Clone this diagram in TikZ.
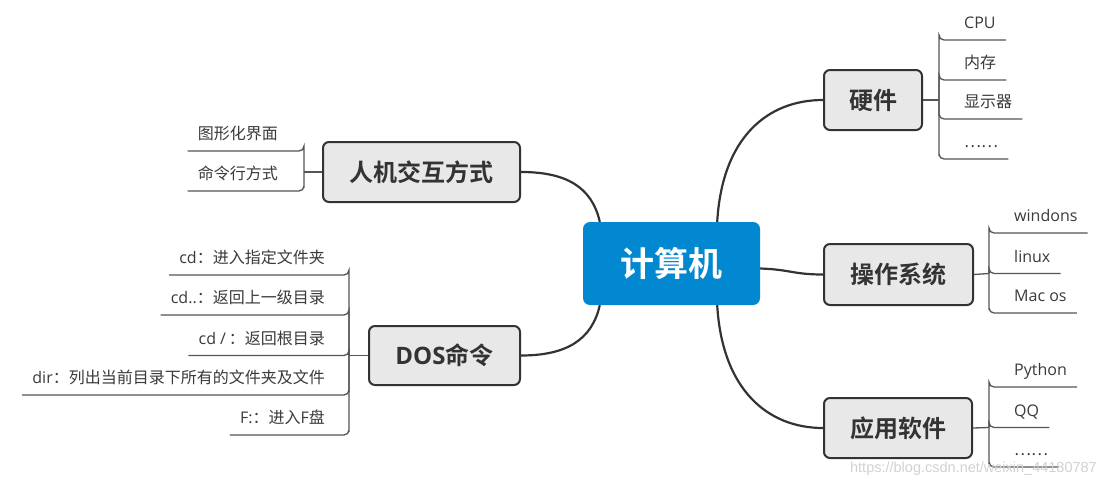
\documentclass[tikz,border=0pt]{standalone}
\usepackage{fontspec}
\setmainfont{Noto Sans CJK SC}[BoldFont={Noto Sans CJK SC Bold}]
\newfontfamily\lat{Open Sans}
\newfontfamily\wmfont{Liberation Sans}
\usetikzlibrary{backgrounds}
\definecolor{linec}{HTML}{333333}
\definecolor{boxfill}{HTML}{E8E8E8}
\definecolor{mainblue}{HTML}{0288D1}
\definecolor{txt}{HTML}{3A3A3A}
\definecolor{brc}{HTML}{555555}
\tikzset{
 branch/.style={draw=linec, line width=2pt, fill=boxfill, rounded corners=6pt, text=linec,
   font=\fontsize{24pt}{28pt}\selectfont\bfseries, inner sep=0pt},
 root/.style={fill=mainblue, rounded corners=7pt, text=white,
   font=\fontsize{34pt}{40pt}\selectfont\bfseries, minimum width=177pt, minimum height=83pt, inner sep=0pt},
 leafR/.style={anchor=south west, inner xsep=10pt, inner ysep=7pt, text depth=4pt, text height=12pt,
   text=txt, font=\fontsize{16pt}{19pt}\selectfont},
 leafL/.style={leafR, anchor=south east},
 bracket/.style={draw=brc, line width=1.3pt, rounded corners=5pt},
 mainline/.style={draw=linec, line width=2.2pt},
}
\begin{document}
\begin{tikzpicture}[x=1pt,y=-1pt]
\useasboundingbox (0,0) rectangle (1106,488);
% nodes
\node[root] (c) at (671.5,263.5) {计算机};
\node[branch, minimum width=197pt, minimum height=60pt] (hm) at (421.5,172) {人机交互方式};
\node[branch, minimum width=151pt, minimum height=59pt] (dos) at (444.5,355.5) {{\lat\bfseries DOS}命令};
\node[branch, minimum width=98pt, minimum height=60pt] (hw) at (873,100) {硬件};
\node[branch, minimum width=149pt, minimum height=61pt] (os) at (898.5,274.5) {操作系统};
\node[branch, minimum width=148pt, minimum height=60pt] (app) at (898,428) {应用软件};
% junctions
\coordinate (j1) at (304,172);
\coordinate (j2) at (349,355.5);
\coordinate (j3) at (939,100);
\coordinate (j4) at (989,273.5);
\coordinate (j5) at (989,427.5);
% leaves
\node[leafL] (l11) at (304,151) {图形化界面\hspace*{16pt}};
\node[leafL] (l12) at (304,191) {命令行方式\hspace*{16pt}};
\node[leafL] (l21) at (349,275) {{\lat cd}：进入指定文件夹\hspace*{14pt}};
\node[leafL] (l22) at (349,315) {{\lat cd..}：返回上一级目录\hspace*{14pt}};
\node[leafL] (l23) at (349,355.5) {{\lat cd /\,}：返回根目录\hspace*{14pt}};
\node[leafL] (l24) at (349,395) {{\lat dir}：列出当前目录下所有的文件夹及文件\hspace*{14pt}};
\node[leafL] (l25) at (349,435) {{\lat F:}：进入{\lat F}盘\hspace*{14pt}};
\node[leafR] (l31) at (939,40) {\hspace*{15pt}{\lat CPU}};
\node[leafR] (l32) at (939,80) {\hspace*{15pt}内存};
\node[leafR] (l33) at (939,119) {\hspace*{15pt}显示器};
\node[leafR] (l34) at (939,159) {\hspace*{15pt}……};
\node[leafR] (l41) at (989,233) {\hspace*{15pt}{\lat windons}};
\node[leafR] (l42) at (989,273.5) {\hspace*{15pt}{\lat linux}};
\node[leafR] (l43) at (989,313) {\hspace*{15pt}{\lat Mac os}};
\node[leafR] (l51) at (989,387) {\hspace*{15pt}{\lat Python}};
\node[leafR] (l52) at (989,427.5) {\hspace*{15pt}{\lat QQ}};
\node[leafR] (l53) at (989,467) {\hspace*{15pt}……};
\begin{pgfonlayer}{background}
\fill[white] (0,0) rectangle (1106,488);
% main curves
\draw[mainline] ([xshift=17pt]c.north west) .. controls +(-8,-35) and +(45,0) .. (hm.east);
\draw[mainline] ([xshift=17pt]c.south west) .. controls +(-8,35) and +(45,0) .. (dos.east);
\draw[mainline] ([xshift=-43pt]c.north east) .. controls +(5,-85) and +(-55,0) .. (hw.west);
\draw[mainline] ([yshift=-5pt]c.east) .. controls +(30,1) and +(-30,0) .. (os.west);
\draw[mainline] ([xshift=-43pt]c.south east) .. controls +(5,85) and +(-55,0) .. (app.west);
% brackets
\draw[bracket] (hm.west) -- (j1);
\draw[bracket] (j1) |- (l11.south east) -- (l11.south west);
\draw[bracket] (j1) |- (l12.south east) -- (l12.south west);
\draw[bracket] (dos.west) -- (j2);
\foreach \n in {l21,l22,l23,l24,l25}
  \draw[bracket] (j2) |- (\n.south east) -- (\n.south west);
\draw[bracket] (hw.east) -- (j3);
\foreach \n in {l31,l32,l33,l34}
  \draw[bracket] (j3) |- (\n.south west) -- (\n.south east);
\draw[bracket] (os.east) -- (j4);
\foreach \n in {l41,l42,l43}
  \draw[bracket] (j4) |- (\n.south west) -- (\n.south east);
\draw[bracket] (app.east) -- (j5);
\foreach \n in {l51,l52,l53}
  \draw[bracket] (j5) |- (\n.south west) -- (\n.south east);
\end{pgfonlayer}
\node[font=\wmfont\fontsize{14.5pt}{16pt}\selectfont, text=gray!35, anchor=east, inner sep=0pt] (wm) at (1097,469) {https://blog.csdn.net/weixin\_44180787};
\end{tikzpicture}
\end{document}
